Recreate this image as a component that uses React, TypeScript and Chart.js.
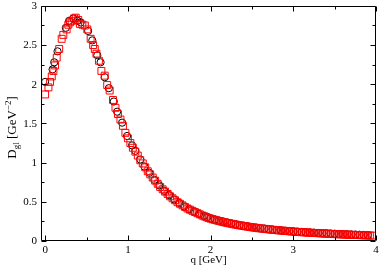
import { useEffect, useRef } from "react";
import { Chart, registerables } from "chart.js";

Chart.register(...registerables);

// Red squares: q [GeV], D [GeV^-2]
const redQ = [
  0.0, 0.04, 0.06, 0.08, 0.1, 0.12, 0.14, 0.17, 0.2, 0.22, 0.26, 0.28, 0.3, 0.32, 0.35, 0.37,
  0.4, 0.42, 0.45, 0.48, 0.51, 0.55, 0.58, 0.6, 0.62, 0.65, 0.68, 0.72, 0.75, 0.78, 0.82, 0.85,
  0.88, 0.91, 0.94, 0.97, 1.0, 1.03, 1.06, 1.09, 1.12, 1.15, 1.18, 1.21, 1.24, 1.27, 1.3, 1.33,
  1.36, 1.39, 1.42, 1.45, 1.48, 1.51, 1.54, 1.57, 1.6, 1.63, 1.66, 1.69, 1.72, 1.75, 1.78, 1.81,
  1.84, 1.87, 1.9, 1.925, 1.95, 1.975,
  2.0, 2.025, 2.05, 2.075, 2.1, 2.125, 2.15, 2.175, 2.2, 2.225, 2.25, 2.275, 2.3, 2.325, 2.35, 2.375,
  2.4, 2.425, 2.45, 2.475, 2.5, 2.525, 2.55, 2.575, 2.6, 2.625, 2.65, 2.675, 2.7, 2.725, 2.75, 2.775,
  2.8, 2.825, 2.85, 2.875, 2.9, 2.925, 2.95, 2.975, 3.0, 3.025, 3.05, 3.075, 3.1, 3.125, 3.15, 3.175,
  3.2, 3.225, 3.25, 3.275, 3.3, 3.325, 3.35, 3.375, 3.4, 3.425, 3.45, 3.475, 3.5, 3.525, 3.55, 3.575,
  3.6, 3.625, 3.65, 3.675, 3.7, 3.725, 3.75, 3.775, 3.8, 3.825, 3.85, 3.875, 3.9, 3.925, 3.95,
];
const redD = [
  1.87, 1.96, 2.03, 2.1, 2.17, 2.24, 2.34, 2.45, 2.58, 2.63, 2.7, 2.76, 2.79, 2.81, 2.84, 2.85,
  2.82, 2.77, 2.76, 2.75, 2.7, 2.58, 2.5, 2.45, 2.39, 2.3, 2.17, 2.11, 1.99, 1.92, 1.8, 1.7,
  1.62, 1.55, 1.47, 1.38, 1.31, 1.25, 1.19, 1.14, 1.09, 1.03, 0.99, 0.94, 0.89, 0.85, 0.81, 0.77,
  0.73, 0.69, 0.66, 0.63, 0.6, 0.57, 0.545, 0.52, 0.495, 0.475, 0.455, 0.435, 0.415, 0.4, 0.385, 0.37,
  0.355, 0.34, 0.325, 0.314, 0.304, 0.294,
  0.285, 0.277, 0.27, 0.263, 0.256, 0.25, 0.243, 0.237, 0.231, 0.226, 0.22, 0.215, 0.21, 0.205, 0.2, 0.196,
  0.191, 0.187, 0.183, 0.179, 0.175, 0.171, 0.168, 0.164, 0.161, 0.158, 0.155, 0.152, 0.149, 0.146, 0.143, 0.141,
  0.138, 0.136, 0.133, 0.131, 0.129, 0.127, 0.124, 0.122, 0.12, 0.118, 0.116, 0.115, 0.113, 0.111, 0.109, 0.108,
  0.106, 0.104, 0.103, 0.101, 0.1, 0.098, 0.097, 0.095, 0.094, 0.092, 0.091, 0.09, 0.088, 0.087, 0.086, 0.085,
  0.083, 0.082, 0.081, 0.08, 0.079, 0.078, 0.077, 0.076, 0.075, 0.074, 0.073, 0.072, 0.071, 0.07, 0.069,
];

// Black circles
const blackQ = [
  0.0, 0.09, 0.11, 0.15, 0.25, 0.29, 0.34, 0.39, 0.43, 0.52, 0.57, 0.63, 0.67, 0.72, 0.77, 0.83,
  0.87, 0.93, 0.99, 1.05, 1.09, 1.15, 1.2, 1.26, 1.32, 1.38, 1.44, 1.5, 1.56, 1.62, 1.68, 1.74,
  1.8, 1.86, 1.92, 1.96,
  2.0, 2.05, 2.1, 2.15, 2.2, 2.25, 2.3, 2.35, 2.4, 2.45, 2.5, 2.55, 2.6, 2.65, 2.7, 2.75,
  2.8, 2.85, 2.9, 2.95, 3.0, 3.05, 3.1, 3.15, 3.2, 3.25, 3.3, 3.35, 3.4, 3.45, 3.5, 3.55,
  3.6, 3.65, 3.7, 3.75, 3.8, 3.85, 3.9,
];
const blackD = [
  2.03, 2.19, 2.28, 2.42, 2.72, 2.81, 2.84, 2.81, 2.79, 2.68, 2.56, 2.37, 2.28, 2.09, 1.95, 1.78,
  1.65, 1.51, 1.34, 1.22, 1.15, 1.04, 0.95, 0.87, 0.78, 0.71, 0.64, 0.585, 0.53, 0.485, 0.44, 0.405,
  0.375, 0.345, 0.32, 0.305,
  0.29, 0.275, 0.26, 0.248, 0.236, 0.225, 0.214, 0.204, 0.195, 0.187, 0.179, 0.171, 0.164, 0.158, 0.152, 0.146,
  0.141, 0.136, 0.131, 0.127, 0.123, 0.119, 0.116, 0.112, 0.109, 0.106, 0.103, 0.1, 0.098, 0.095, 0.093, 0.09,
  0.088, 0.086, 0.084, 0.082, 0.08, 0.078, 0.076,
];

const xMajorTicks = [0, 1, 2, 3, 4];
const xTickLabels = ["0", "1", "2", "3", "4"];
const xMinorTicks = [0.5, 1.5, 2.5, 3.5];
const yMajorTicks = [0, 0.5, 1, 1.5, 2, 2.5, 3];
const yTickLabels = ["0", "0.5", "1", "1.5", "2", "2.5", "3"];
const yMinorTicks = [0.25, 0.75, 1.25, 1.75, 2.25, 2.75];
const xTitle = "q [GeV]";
// y title pieces: [text, kind]
const yTitleParts: [string, string][] = [
  ["D", "n"],
  ["gl", "sub"],
  [" [GeV", "n"],
  ["\u22122", "sup"],
  ["]", "n"],
];

const FONT = "'Liberation Serif', 'DejaVu Serif', serif";

const axesPlugin = {
  id: "axesFrame",
  afterDraw(chart: any) {
    const { ctx, chartArea: a, scales } = chart;
    const xs = scales.x;
    const ys = scales.y;
    const L = Math.round(a.left) + 0.5;
    const R = Math.round(a.right) - 0.5;
    const T = Math.round(a.top) + 0.5;
    const B = Math.round(a.bottom) - 0.5;
    ctx.save();
    ctx.strokeStyle = "#000";
    ctx.lineWidth = 1;
    ctx.beginPath();
    ctx.rect(L, T, R - L, B - T);
    ctx.stroke();

    const major = 5;
    const minor = 3;
    ctx.beginPath();
    const xt = (v: number, len: number) => {
      const p = Math.round(xs.getPixelForValue(v)) + 0.5;
      ctx.moveTo(p, B);
      ctx.lineTo(p, B - len);
      ctx.moveTo(p, T);
      ctx.lineTo(p, T + len);
    };
    const yt = (v: number, len: number) => {
      const p = Math.round(ys.getPixelForValue(v)) + 0.5;
      ctx.moveTo(L, p);
      ctx.lineTo(L + len, p);
      ctx.moveTo(R, p);
      ctx.lineTo(R - len, p);
    };
    xMajorTicks.forEach((v) => xt(v, major));
    xMinorTicks.forEach((v) => xt(v, minor));
    yMajorTicks.forEach((v) => yt(v, major));
    yMinorTicks.forEach((v) => yt(v, minor));
    ctx.stroke();

    ctx.fillStyle = "#000";
    ctx.font = `11px ${FONT}`;
    ctx.textAlign = "center";
    ctx.textBaseline = "top";
    xMajorTicks.forEach((v, i) => {
      ctx.fillText(xTickLabels[i], xs.getPixelForValue(v), a.bottom + 4);
    });
    ctx.textAlign = "right";
    ctx.textBaseline = "middle";
    yMajorTicks.forEach((v, i) => {
      ctx.fillText(yTickLabels[i], a.left - 4, ys.getPixelForValue(v) + 0.5);
    });

    // x title
    ctx.font = `11px ${FONT}`;
    ctx.textAlign = "center";
    ctx.textBaseline = "alphabetic";
    ctx.fillText(xTitle, (a.left + a.right) / 2, 263);

    // y title (rotated)
    const big = 13;
    const small = 9;
    const widths = yTitleParts.map(([t, k]) => {
      ctx.font = `${k === "n" ? big : small}px ${FONT}`;
      return ctx.measureText(t).width;
    });
    const total = widths.reduce((s, w) => s + w, 0);
    ctx.translate(16, (a.top + a.bottom) / 2 + 4);
    ctx.rotate(-Math.PI / 2);
    ctx.textAlign = "left";
    ctx.textBaseline = "alphabetic";
    let x = -total / 2;
    yTitleParts.forEach(([t, k], i) => {
      ctx.font = `${k === "n" ? big : small}px ${FONT}`;
      const dy = k === "sub" ? 3 : k === "sup" ? -5.5 : 0;
      ctx.fillText(t, x, dy);
      x += widths[i];
    });
    ctx.restore();
  },
};

export default function App() {
  const ref = useRef<HTMLCanvasElement | null>(null);
  useEffect(() => {
    document.body.style.margin = "0";
    const canvas = ref.current;
    if (!canvas) return;
    const chart = new Chart(canvas, {
      type: "scatter",
      data: {
        datasets: [
          {
            label: "red",
            data: redQ.map((q, i) => ({ x: q, y: redD[i] })),
            pointStyle: "rect",
            pointRadius: 4.9,
            pointBorderWidth: 1,
            borderColor: "#ff0000",
            backgroundColor: "rgba(0,0,0,0)",
            showLine: false,
            clip: false,
          } as any,
          {
            label: "black",
            data: blackQ.map((q, i) => ({ x: q, y: blackD[i] })),
            pointStyle: "circle",
            pointRadius: 3.6,
            pointBorderWidth: 1,
            borderColor: "#000000",
            backgroundColor: "rgba(0,0,0,0)",
            showLine: false,
            clip: false,
          } as any,
        ],
      },
      options: {
        animation: false,
        responsive: false,
        events: [],
        layout: { padding: { left: 41, right: 5, top: 5, bottom: 27 } },
        scales: {
          x: { type: "linear", min: -0.05, max: 4, display: false },
          y: { type: "linear", min: 0, max: 3, display: false },
        },
        plugins: { legend: { display: false }, tooltip: { enabled: false } },
      },
      plugins: [axesPlugin],
    });
    return () => chart.destroy();
  }, []);
  return (
    <div style={{ width: 382, height: 268, background: "#fff" }}>
      <canvas ref={ref} width={382} height={268} style={{ display: "block" }} />
    </div>
  );
}
